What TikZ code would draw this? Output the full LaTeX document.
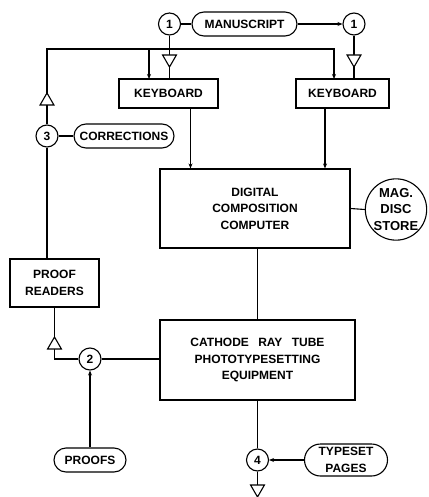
\documentclass[tikz,border=0pt]{standalone}
\usepackage{fontspec}
\setmainfont{Liberation Sans}
\usetikzlibrary{shapes.geometric,arrows.meta}
\begin{document}
\begin{tikzpicture}[x=1pt,y=-1pt,line width=1.1pt,
  font=\fontsize{12}{16.5}\selectfont\bfseries,
  box/.style={draw,rectangle,align=center,inner sep=0pt},
  pill/.style={draw,rectangle,rounded corners=#1,align=center,inner sep=0pt},
  num/.style={draw,circle,minimum size=22pt,inner sep=0pt},
  tridn/.style={draw,fill=white,regular polygon,regular polygon sides=3,shape border rotate=180,minimum size=16pt,inner sep=0pt},
  triup/.style={draw,fill=white,regular polygon,regular polygon sides=3,minimum size=16pt,inner sep=0pt},
  arr/.style={-{Stealth[length=5pt,width=4pt]}}
]
\useasboundingbox (0,0) rectangle (428,497);
% nodes
\node[num] (c1a) at (169.5,24) {1};
\node[pill=12pt,minimum width=105pt,minimum height=24pt] (man) at (244.5,24) {MANUSCRIPT};
\node[num] (c1b) at (354,24) {1};
\node[box,minimum width=99pt,minimum height=29pt] (kb1) at (168.5,93.5) {KEYBOARD};
\node[box,minimum width=93pt,minimum height=29pt] (kb2) at (342.5,93.5) {KEYBOARD};
\node[num] (c3) at (47,136) {3};
\node[pill=12pt,minimum width=100pt,minimum height=24pt] (corr) at (124,136) {CORRECTIONS};
\node[box,minimum width=190pt,minimum height=79pt] (comp) at (255,208.5) {DIGITAL\\COMPOSITION\\COMPUTER};
\node[draw,circle,minimum size=58pt,inner sep=0pt,align=center,font=\fontsize{13}{16.5}\selectfont\bfseries] (mag) at (396,209.5) {MAG.\\DISC\\STORE};
\node[box,minimum width=89pt,minimum height=48pt] (pr) at (54.5,283) {PROOF\\READERS};
\node[box,minimum width=195pt,minimum height=80pt] (crt) at (257.5,360) {CATHODE\hspace{6pt} RAY\hspace{6pt} TUBE\\PHOTOTYPESETTING\\EQUIPMENT};
\node[num] (c2) at (90,359) {2};
\node[pill=12pt,minimum width=72pt,minimum height=24pt] (proofs) at (90,460) {PROOFS};
\node[num] (c4) at (257.5,460) {4};
\node[pill=16pt,minimum width=83pt,minimum height=32pt] (tp) at (346,460) {TYPESET\\PAGES};
% coordinates
\coordinate (tl) at (47,49);
\coordinate (k1in) at (149,79);
\coordinate (k2in) at (334,79);
\coordinate (k1o) at (190.5,108);
\coordinate (k2o) at (325,108);
% connectors
\draw (c1a) -- (man);
\draw[arr] (man) -- (c1b);
\draw (c1a.south) -- (c1a.south |- kb1.north);
\draw (c1b.south) -- (c1b.south |- kb2.north);
\draw[arr] (c3.north) -- (tl) -- (k2in |- tl) -- (k2in);
\draw[arr] (k1in |- tl) -- (k1in);
\draw (c3.south) -- (c3.south |- pr.north);
\draw (c3) -- (corr);
\draw[arr] (k1o) -- (k1o |- comp.north);
\draw[arr] (k2o) -- (k2o |- comp.north);
\draw (comp.east) -- (mag.west);
\draw (crt.north |- comp.south) -- (crt.north);
\draw (pr.south) |- (c2.west);
\draw (c2.east) -- (c2.east -| crt.west);
\draw[arr] (proofs.north) -- (c2.south);
\draw (crt.south) -- (c4.north);
\draw[arr] (tp.west) -- (c4.east);
\draw (c4.south) -- (257.5,489);
% triangles
\node[tridn] (t1) at (169.5,59) {};
\node[tridn] (t2) at (354,59) {};
\node[triup] (t3) at (47,101) {};
\node[triup] (t4) at (54.5,345) {};
\node[tridn] (t5) at (257.5,489) {};
\end{tikzpicture}
\end{document}
